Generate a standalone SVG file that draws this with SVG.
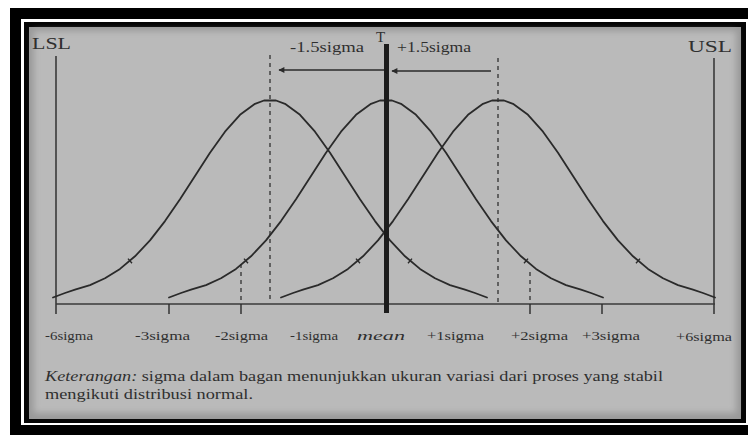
<svg xmlns="http://www.w3.org/2000/svg" width="748" height="435" viewBox="0 0 748 435">
<style>
.lbl{font-family:"Liberation Serif","Times New Roman",serif;fill:#2f2f2f;}
.curve{fill:none;stroke:#2a2a2a;stroke-width:1.8;stroke-linejoin:round;stroke-linecap:round;}
.dash{fill:none;stroke:#4a4a4a;stroke-width:1.6;stroke-dasharray:4 4;}
.solid{fill:none;stroke:#3a3a3a;stroke-width:1.6;}
.tick{fill:none;stroke:#2a2a2a;stroke-width:1.4;}
</style>
<defs>
<marker id="ah" viewBox="0 0 10 10" refX="9" refY="5" markerWidth="9" markerHeight="6" orient="auto-start-reverse" markerUnits="userSpaceOnUse">
<path d="M0,0 L10,5 L0,10 Z" fill="#2a2a2a"/>
</marker>
<g id="bell">
<path class="curve" d="M-217,297.5 L-205,293 L-195,289.7 L-180,285.1 L-165,278.3 L-150,268.9 L-135,256.3 L-120,240.4 L-105,221.1 L-90,199.3 L-75,175.9 L-60,152.7 L-45,131.7 L-30,114.8 L-15,103.8 L-6,100.5 L6,100.5 L15,103.8 L30,114.8 L45,131.7 L60,152.7 L75,175.9 L90,199.3 L105,221.1 L120,240.4 L135,256.3 L150,268.9 L165,278.3 L180,285.1 L195,289.7 L205,293 L217,297.5"/>
<path class="tick" d="M-142,258.6 L-138,263.2 M138,263.2 L142,258.6"/>
</g>
<filter id="soft" x="-5%" y="-5%" width="110%" height="110%"><feGaussianBlur stdDeviation="3"/></filter>
</defs>

<g id="frame">
<rect x="0" y="0" width="748" height="435" fill="#ffffff"/>
<rect x="10" y="8" width="740" height="430" fill="#000000"/>
<rect x="21" y="19" width="730" height="406" fill="#ffffff"/>
<rect x="24" y="22" width="722" height="401" fill="#050505"/>
<rect x="29" y="27" width="712" height="392" fill="#9a9a9a"/>
<rect x="34" y="31" width="702" height="382" fill="#bababa" filter="url(#soft)"/>
</g>

<g id="connectors">
<line class="solid" x1="56" y1="304" x2="715" y2="304"/>
<line class="solid" x1="56" y1="56" x2="56" y2="314"/>
<line class="solid" x1="714" y1="58" x2="714" y2="314"/>
<line class="tick" x1="169" y1="304" x2="169" y2="314"/>
<line class="tick" x1="241" y1="304" x2="241" y2="314"/>
<line class="tick" x1="530" y1="304" x2="530" y2="314"/>
<line class="tick" x1="602" y1="304" x2="602" y2="314"/>
<line class="dash" x1="270" y1="55" x2="270" y2="302"/>
<line class="dash" x1="498" y1="58" x2="498" y2="302"/>
<line class="dash" x1="241" y1="264" x2="241" y2="304"/>
<line class="dash" x1="530" y1="272" x2="530" y2="304"/>
<line x1="384" y1="70" x2="279" y2="70" stroke="#2a2a2a" stroke-width="1.5" marker-end="url(#ah)"/>
<line x1="491" y1="71" x2="392" y2="71" stroke="#2a2a2a" stroke-width="1.5" marker-end="url(#ah)"/>
</g>

<g id="curve-left"><use href="#bell" transform="translate(270,0)"/></g>
<g id="curve-center"><use href="#bell" transform="translate(386,0)"/></g>
<g id="curve-right"><use href="#bell" transform="translate(498,0)"/></g>

<g id="mean-line"><line x1="386.5" y1="44" x2="386.5" y2="313" stroke="#1c1c1c" stroke-width="5"/></g>

<g id="top-labels">
<text class="lbl" x="32" y="49" font-size="17" textLength="39" lengthAdjust="spacingAndGlyphs">LSL</text>
<text class="lbl" x="688" y="52" font-size="17" textLength="44" lengthAdjust="spacingAndGlyphs">USL</text>
<text class="lbl" x="290" y="52" font-size="14" textLength="74" lengthAdjust="spacingAndGlyphs">-1.5sigma</text>
<text class="lbl" x="397" y="52" font-size="14" textLength="74" lengthAdjust="spacingAndGlyphs">+1.5sigma</text>
<text class="lbl" x="376" y="42" font-size="15">T</text>
</g>

<g id="axis-labels" font-size="13">
<text class="lbl" x="45" y="340" textLength="48" lengthAdjust="spacingAndGlyphs">-6sigma</text>
<text class="lbl" x="135" y="340" textLength="55" lengthAdjust="spacingAndGlyphs">-3sigma</text>
<text class="lbl" x="215" y="340" textLength="53" lengthAdjust="spacingAndGlyphs">-2sigma</text>
<text class="lbl" x="290" y="340" textLength="48" lengthAdjust="spacingAndGlyphs">-1sigma</text>
<text class="lbl" x="357" y="340" font-style="italic" textLength="48" lengthAdjust="spacingAndGlyphs">mean</text>
<text class="lbl" x="427" y="340" textLength="57" lengthAdjust="spacingAndGlyphs">+1sigma</text>
<text class="lbl" x="511" y="340" textLength="57" lengthAdjust="spacingAndGlyphs">+2sigma</text>
<text class="lbl" x="582" y="340" textLength="58" lengthAdjust="spacingAndGlyphs">+3sigma</text>
<text class="lbl" x="676" y="341" textLength="56" lengthAdjust="spacingAndGlyphs">+6sigma</text>
</g>

<g id="caption" font-size="14">
<text class="lbl" x="45" y="381" textLength="618" lengthAdjust="spacingAndGlyphs"><tspan font-style="italic">Keterangan:</tspan> sigma dalam bagan menunjukkan ukuran variasi dari proses yang stabil</text>
<text class="lbl" x="45" y="399" textLength="208" lengthAdjust="spacingAndGlyphs">mengikuti distribusi normal.</text>
</g>
</svg>
